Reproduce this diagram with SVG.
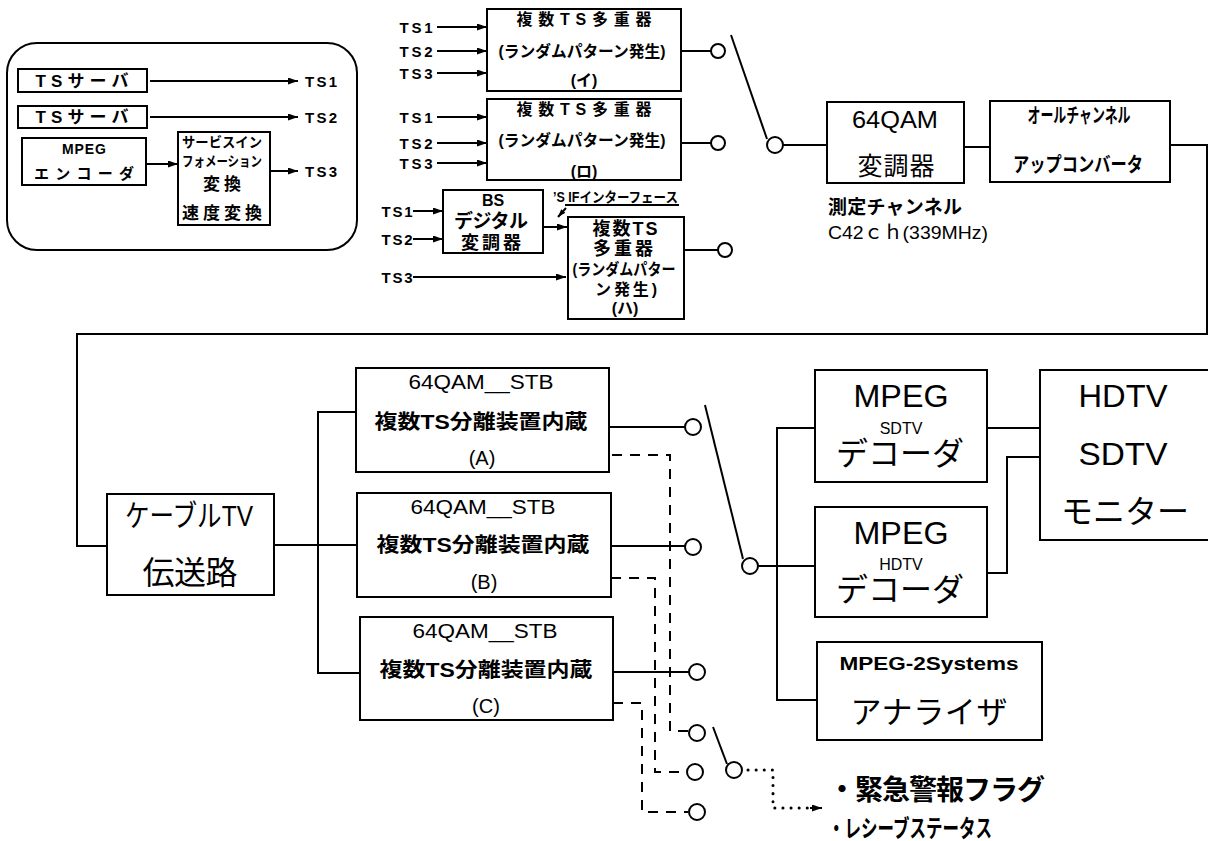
<svg xmlns="http://www.w3.org/2000/svg" width="1208" height="841" viewBox="0 0 1208 841">
<defs>
<marker id="ah" viewBox="0 0 10 7" refX="10" refY="3.5" markerWidth="10" markerHeight="7" markerUnits="userSpaceOnUse" orient="auto"><path d="M0,0 L10,3.5 L0,7 z" fill="#000"/></marker>
<marker id="ahs" viewBox="0 0 10 7" refX="10" refY="3.5" markerWidth="8" markerHeight="6" markerUnits="userSpaceOnUse" orient="auto"><path d="M0,0 L10,3.5 L0,7 z" fill="#000"/></marker>
</defs>
<style>
.bx{fill:#fff;stroke:#000;stroke-width:2}
.ln{fill:none;stroke:#000;stroke-width:2}
.ar{fill:none;stroke:#000;stroke-width:2;marker-end:url(#ah)}
.ds{fill:none;stroke:#000;stroke-width:2;stroke-dasharray:10 8}
.dt{fill:none;stroke:#000;stroke-width:3;stroke-dasharray:0.1 8;stroke-linecap:round}
.ci{fill:#fff;stroke:#000;stroke-width:2}
text{font-family:"Liberation Sans","Noto Sans CJK JP",sans-serif;fill:#000;text-anchor:middle;dominant-baseline:central}
.b{font-weight:bold}
.st{text-anchor:start}
</style>
<rect fill="#fff" x="0" y="0" width="1208" height="841"/>

<g id="source-group">
<rect class="ln" x="7" y="43" width="350" height="207" rx="30"/>
<g id="ts-server-1"><rect class="bx" x="18" y="69" width="129" height="23"/><text class="b" x="82" y="81" font-size="17" textLength="93" lengthAdjust="spacing">TSサーバ</text></g>
<g id="ts-server-2"><rect class="bx" x="18" y="106" width="129" height="22"/><text class="b" x="82" y="117" font-size="17" textLength="93" lengthAdjust="spacing">TSサーバ</text></g>
<g id="mpeg-encoder"><rect class="bx" x="22" y="138" width="124" height="47"/><text class="b" x="84" y="149" font-size="14" textLength="44" lengthAdjust="spacing">MPEG</text><text class="b" x="84" y="173" font-size="15" textLength="100" lengthAdjust="spacing">エンコーダ</text></g>
<g id="si-converter"><rect class="bx" x="178" y="132" width="92" height="93"/>
<text class="b" x="222" y="142" font-size="14" textLength="80" lengthAdjust="spacingAndGlyphs">サービスイン</text>
<text class="b" x="222" y="161" font-size="14" textLength="80" lengthAdjust="spacingAndGlyphs">フォメーション</text>
<text class="b" x="222" y="184" font-size="17" textLength="38" lengthAdjust="spacing">変換</text>
<text class="b" x="222" y="213" font-size="17" textLength="80" lengthAdjust="spacing">速度変換</text></g>
<text class="b" x="321" y="81" font-size="15" textLength="32" lengthAdjust="spacing">TS1</text>
<text class="b" x="321" y="117" font-size="15" textLength="32" lengthAdjust="spacing">TS2</text>
<text class="b" x="321" y="171" font-size="15" textLength="32" lengthAdjust="spacing">TS3</text>
</g>

<g id="mux-i"><rect class="bx" x="487" y="9" width="194" height="82"/>
<text class="b" x="584" y="19" font-size="16" textLength="135" lengthAdjust="spacing">複数TS多重器</text>
<text class="b" x="582" y="51" font-size="16" textLength="167" lengthAdjust="spacingAndGlyphs">(ランダムパターン発生)</text>
<text class="b" x="584" y="80" font-size="16">(イ)</text></g>
<g id="mux-ro"><rect class="bx" x="487" y="99" width="194" height="81"/>
<text class="b" x="584" y="109" font-size="16" textLength="135" lengthAdjust="spacing">複数TS多重器</text>
<text class="b" x="582" y="140" font-size="16" textLength="167" lengthAdjust="spacingAndGlyphs">(ランダムパターン発生)</text>
<text class="b" x="584" y="171" font-size="16">(ロ)</text></g>
<g id="ts-labels" font-size="15">
<text class="b" x="416" y="27" textLength="33" lengthAdjust="spacing">TS1</text>
<text class="b" x="416" y="51" textLength="33" lengthAdjust="spacing">TS2</text>
<text class="b" x="416" y="73" textLength="33" lengthAdjust="spacing">TS3</text>
<text class="b" x="416" y="117" textLength="33" lengthAdjust="spacing">TS1</text>
<text class="b" x="416" y="143" textLength="33" lengthAdjust="spacing">TS2</text>
<text class="b" x="416" y="163" textLength="33" lengthAdjust="spacing">TS3</text>
<text class="b" x="397" y="211" textLength="31" lengthAdjust="spacing">TS1</text>
<text class="b" x="397" y="239" textLength="31" lengthAdjust="spacing">TS2</text>
<text class="b" x="397" y="277" textLength="31" lengthAdjust="spacing">TS3</text>
</g>
<g id="bs-modulator"><rect class="bx" x="443" y="190" width="100" height="63"/>
<text class="b" x="493" y="200" font-size="16">BS</text>
<text class="b" x="491" y="221" font-size="19" textLength="74" lengthAdjust="spacing">デジタル</text>
<text class="b" x="491" y="243" font-size="18" textLength="60" lengthAdjust="spacing">変調器</text></g>
<g id="mux-ha"><rect class="bx" x="568" y="217" width="116" height="102"/>
<text class="b" x="625" y="229" font-size="18" textLength="65" lengthAdjust="spacing">複数TS</text>
<text class="b" x="623" y="249" font-size="18" textLength="60" lengthAdjust="spacing">多重器</text>
<text class="b" x="624" y="269" font-size="16" textLength="103" lengthAdjust="spacingAndGlyphs">(ランダムパター</text>
<text class="b" x="626" y="289" font-size="16" textLength="62" lengthAdjust="spacing">ン発生)</text>
<text class="b" x="625" y="308" font-size="16">(ハ)</text></g>
<g id="bs-if-label"><text class="b st" x="553" y="197" font-size="14" textLength="125" lengthAdjust="spacingAndGlyphs">’S IFインターフェース</text><line class="ln" x1="565" y1="205" x2="679" y2="205" stroke-width="1.5"/></g>

<g id="qam-modulator"><rect class="bx" x="827" y="102" width="137" height="81"/>
<text x="895" y="120" font-size="23" textLength="86" lengthAdjust="spacingAndGlyphs">64QAM</text>
<text x="896" y="166" font-size="25" textLength="77" lengthAdjust="spacing">変調器</text></g>
<g id="upconverter"><rect class="bx" x="990" y="101" width="180" height="81"/>
<text class="b" x="1079" y="116" font-size="20" textLength="103" lengthAdjust="spacingAndGlyphs">オールチャンネル</text>
<text class="b" x="1078" y="165" font-size="20" textLength="130" lengthAdjust="spacingAndGlyphs">アップコンバータ</text></g>
<g id="channel-label">
<text class="b st" x="828" y="207" font-size="19" textLength="134" lengthAdjust="spacing">測定チャンネル</text>
<text class="st" x="828" y="232" font-size="19" textLength="160" lengthAdjust="spacingAndGlyphs">C42ｃｈ(339MHz)</text></g>

<g id="cable-tv"><rect class="bx" x="107" y="494" width="167" height="101"/>
<text x="189" y="515" font-size="30" textLength="128" lengthAdjust="spacingAndGlyphs">ケーブルTV</text>
<text x="190" y="573" font-size="32" textLength="95" lengthAdjust="spacing">伝送路</text></g>
<g id="stb-a"><rect class="bx" x="356" y="368" width="253" height="104"/>
<text x="481" y="382" font-size="20" textLength="145" lengthAdjust="spacingAndGlyphs">64QAM__STB</text>
<text class="b" x="481" y="422" font-size="20" textLength="213" lengthAdjust="spacingAndGlyphs">複数TS分離装置内蔵</text>
<text x="482" y="458" font-size="20">(A)</text></g>
<g id="stb-b"><rect class="bx" x="357" y="493" width="254" height="104"/>
<text x="483" y="507" font-size="20" textLength="145" lengthAdjust="spacingAndGlyphs">64QAM__STB</text>
<text class="b" x="483" y="545" font-size="20" textLength="213" lengthAdjust="spacingAndGlyphs">複数TS分離装置内蔵</text>
<text x="484" y="582" font-size="20">(B)</text></g>
<g id="stb-c"><rect class="bx" x="360" y="617" width="253" height="103"/>
<text x="485" y="631" font-size="20" textLength="145" lengthAdjust="spacingAndGlyphs">64QAM__STB</text>
<text class="b" x="486" y="670" font-size="20" textLength="213" lengthAdjust="spacingAndGlyphs">複数TS分離装置内蔵</text>
<text x="486" y="706" font-size="20">(C)</text></g>

<g id="mpeg-sdtv-decoder"><rect class="bx" x="815" y="370" width="172" height="112"/>
<text x="901" y="396" font-size="32" textLength="95" lengthAdjust="spacingAndGlyphs">MPEG</text>
<text x="901" y="428" font-size="16">SDTV</text>
<text x="900" y="454" font-size="32" textLength="128" lengthAdjust="spacing">デコーダ</text></g>
<g id="mpeg-hdtv-decoder"><rect class="bx" x="815" y="507" width="172" height="110"/>
<text x="901" y="533" font-size="32" textLength="95" lengthAdjust="spacingAndGlyphs">MPEG</text>
<text x="901" y="564" font-size="16">HDTV</text>
<text x="900" y="590" font-size="32" textLength="128" lengthAdjust="spacing">デコーダ</text></g>
<g id="monitor"><rect class="bx" x="1040" y="370" width="180" height="170"/>
<text x="1123" y="396" font-size="32" textLength="89" lengthAdjust="spacingAndGlyphs">HDTV</text>
<text x="1123" y="454" font-size="32" textLength="89" lengthAdjust="spacingAndGlyphs">SDTV</text>
<text x="1125" y="512" font-size="32" textLength="128" lengthAdjust="spacing">モニター</text></g>
<g id="analyzer"><rect class="bx" x="817" y="642" width="225" height="98"/>
<text class="b" x="929" y="663" font-size="19" textLength="179" lengthAdjust="spacingAndGlyphs">MPEG-2Systems</text>
<text x="929" y="712" font-size="31" textLength="157" lengthAdjust="spacing">アナライザ</text></g>
<g id="flags-label">
<text class="b st" x="828" y="790" font-size="28" textLength="217" lengthAdjust="spacing">・緊急警報フラグ</text>
<text class="b st" x="828" y="828" font-size="24" textLength="164" lengthAdjust="spacingAndGlyphs">・レシーブステータス</text></g>

<g id="connectors">
<line class="ar" x1="150" y1="81" x2="298" y2="81"/>
<line class="ar" x1="150" y1="117" x2="298" y2="117"/>
<line class="ar" x1="146" y1="164" x2="178" y2="164"/>
<line class="ar" x1="270" y1="171" x2="298" y2="171"/>
<line class="ar" x1="437" y1="27" x2="487" y2="27"/>
<line class="ar" x1="437" y1="51" x2="487" y2="51"/>
<line class="ar" x1="437" y1="73" x2="487" y2="73"/>
<line class="ar" x1="437" y1="117" x2="487" y2="117"/>
<line class="ar" x1="437" y1="143" x2="487" y2="143"/>
<line class="ar" x1="437" y1="163" x2="487" y2="163"/>
<line class="ar" x1="413" y1="211" x2="443" y2="211"/>
<line class="ar" x1="413" y1="239" x2="443" y2="239"/>
<line class="ar" x1="413" y1="277" x2="566" y2="277"/>
<line class="ar" x1="543" y1="227" x2="567" y2="227"/>
<line class="ln" x1="566" y1="208" x2="558" y2="217" stroke-width="1.5" marker-end="url(#ahs)"/>
<line class="ln" x1="681" y1="51" x2="711" y2="51"/>
<circle class="ci" cx="718" cy="51" r="7"/>
<line class="ln" x1="681" y1="143" x2="711" y2="143"/>
<circle class="ci" cx="718" cy="143" r="7"/>
<line class="ln" x1="684" y1="250" x2="718" y2="250"/>
<circle class="ci" cx="725" cy="250" r="7"/>
<line class="ln" x1="731" y1="35" x2="767" y2="139"/>
<circle class="ci" cx="775" cy="145" r="8"/>
<line class="ln" x1="783" y1="145" x2="827" y2="145"/>
<line class="ln" x1="964" y1="147" x2="990" y2="147"/>
<polyline class="ln" points="1170,145 1207,145 1207,334 77,334 77,546 107,546"/>
<line class="ln" x1="274" y1="545" x2="357" y2="545"/>
<polyline class="ln" points="356,412 318,412 318,673 360,673"/>
<line class="ln" x1="609" y1="427" x2="685" y2="427"/>
<circle class="ci" cx="693" cy="427" r="8"/>
<line class="ln" x1="611" y1="546" x2="685" y2="546"/>
<circle class="ci" cx="693" cy="547" r="8"/>
<line class="ln" x1="613" y1="672" x2="689" y2="672"/>
<circle class="ci" cx="697" cy="672" r="8"/>
<path class="ds" d="M612,455 H670 V731 H688"/>
<circle class="ci" cx="697" cy="733" r="8"/>
<path class="ds" d="M611,578 H655 V772 H687"/>
<circle class="ci" cx="695" cy="772" r="8"/>
<path class="ds" d="M613,703 H642 V812 H688"/>
<circle class="ci" cx="697" cy="812" r="8"/>
<line class="ln" x1="713" y1="727" x2="727" y2="764"/>
<circle class="ci" cx="734" cy="770" r="8"/>
<path class="dt" d="M748,770 H773 V808 H812"/>
<line class="ar" x1="810" y1="808" x2="822" y2="808"/>
<line class="ln" x1="705" y1="405" x2="743" y2="559"/>
<circle class="ci" cx="750" cy="566" r="8"/>
<line class="ln" x1="758" y1="566" x2="815" y2="566"/>
<polyline class="ln" points="815,428 777,428 777,700 817,700"/>
<line class="ln" x1="987" y1="428" x2="1040" y2="428"/>
<polyline class="ln" points="987,573 1007,573 1007,457 1040,457"/>
</g>
</svg>
